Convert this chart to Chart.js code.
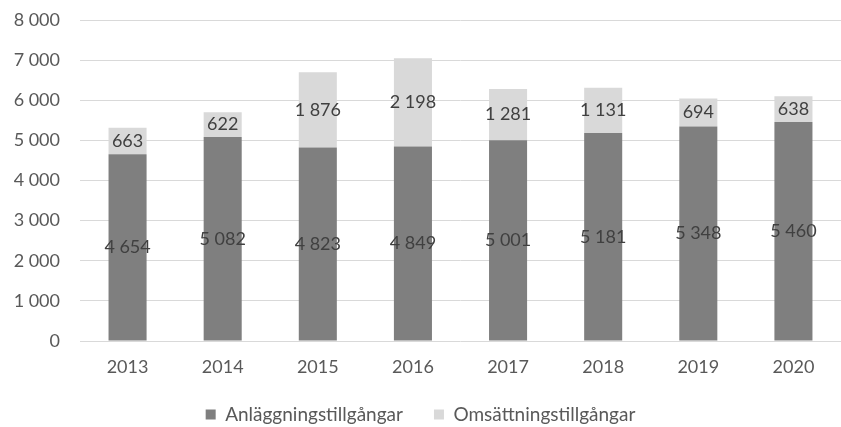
<!DOCTYPE html>
<html>
<head>
<meta charset="utf-8">
<script src="https://cdn.jsdelivr.net/npm/chart.js@4/dist/chart.umd.min.js"></script>
<style>
  html, body { margin: 0; padding: 0; background: #fff; overflow: hidden; }
  canvas { display: block; }
</style>
</head>
<body>
<canvas id="assetChart" width="841" height="427"></canvas>
<script>
// data
var years = ['2013', '2014', '2015', '2016', '2017', '2018', '2019', '2020'];
var anlaggning = [4654, 5082, 4823, 4849, 5001, 5181, 5348, 5460];
var omsattning = [663, 622, 1876, 2198, 1281, 1131, 694, 638];
var seriesNames = ['Anläggningstillgångar', 'Omsättningstillgångar'];

var fontFam = 'Lato, "Open Sans", sans-serif';

function fmt(v) {
  return String(v).replace(/\B(?=(\d{3})+(?!\d))/g, ' ');
}

// simple label plugin, draws value in the middle of each bar segment
var segmentLabels = {
  id: 'segmentLabels',
  afterDatasetsDraw: function (chart) {
    var ctx = chart.ctx;
    ctx.save();
    ctx.font = '18px ' + fontFam;
    ctx.fillStyle = '#404040';
    ctx.textAlign = 'center';
    ctx.textBaseline = 'middle';
    chart.data.datasets.forEach(function (ds, i) {
      var meta = chart.getDatasetMeta(i);
      meta.data.forEach(function (bar, j) {
        var mid = (bar.y + bar.base) / 2;
        ctx.fillText(fmt(ds.data[j]), bar.x, mid);
      });
    });
    ctx.restore();
  }
};

var ctx = document.getElementById('assetChart').getContext('2d');
var assetChart = new Chart(ctx, {
  type: 'bar',
  data: {
    labels: years,
    datasets: [{
      label: seriesNames[0],
      data: anlaggning,
      backgroundColor: '#7f7f7f',
      barPercentage: 0.8,
      categoryPercentage: 0.5
    }, {
      label: seriesNames[1],
      data: omsattning,
      backgroundColor: '#d9d9d9',
      barPercentage: 0.8,
      categoryPercentage: 0.5
    }]
  },
  options: {
    responsive: false,
    animation: false,
    // legend adds 10px of empty space under itself, so bottom goes negative
    layout: { padding: { top: 20, right: 0, bottom: -7, left: 0 } },
    scales: {
      x: {
        stacked: true,
        grid: { display: false, drawTicks: false },
        border: { display: false },
        ticks: { color: '#595959', font: { family: fontFam, size: 18, lineHeight: 1 }, padding: 17 },
        afterFit: function (scale) { scale.height = 33; }
      },
      y: {
        stacked: true,
        min: 0,
        max: 8000,
        grid: { color: '#d9d9d9', lineWidth: 1, drawTicks: false },
        border: { display: false },
        ticks: {
          stepSize: 1000,
          color: '#595959',
          padding: 20,
          font: { family: fontFam, size: 18 },
          callback: function (v) { return fmt(v); }
        },
        afterFit: function (scale) {
          scale.width = 80;
          scale.paddingTop = 0;
          scale.paddingBottom = 0;
        }
      }
    },
    plugins: {
      legend: {
        position: 'bottom',
        labels: {
          boxWidth: 10,
          boxHeight: 10,
          color: '#595959',
          padding: 31,
          font: { family: fontFam, size: 19 }
        }
      },
      tooltip: { enabled: false }
    }
  },
  plugins: [segmentLabels]
});
</script>
</body>
</html>
